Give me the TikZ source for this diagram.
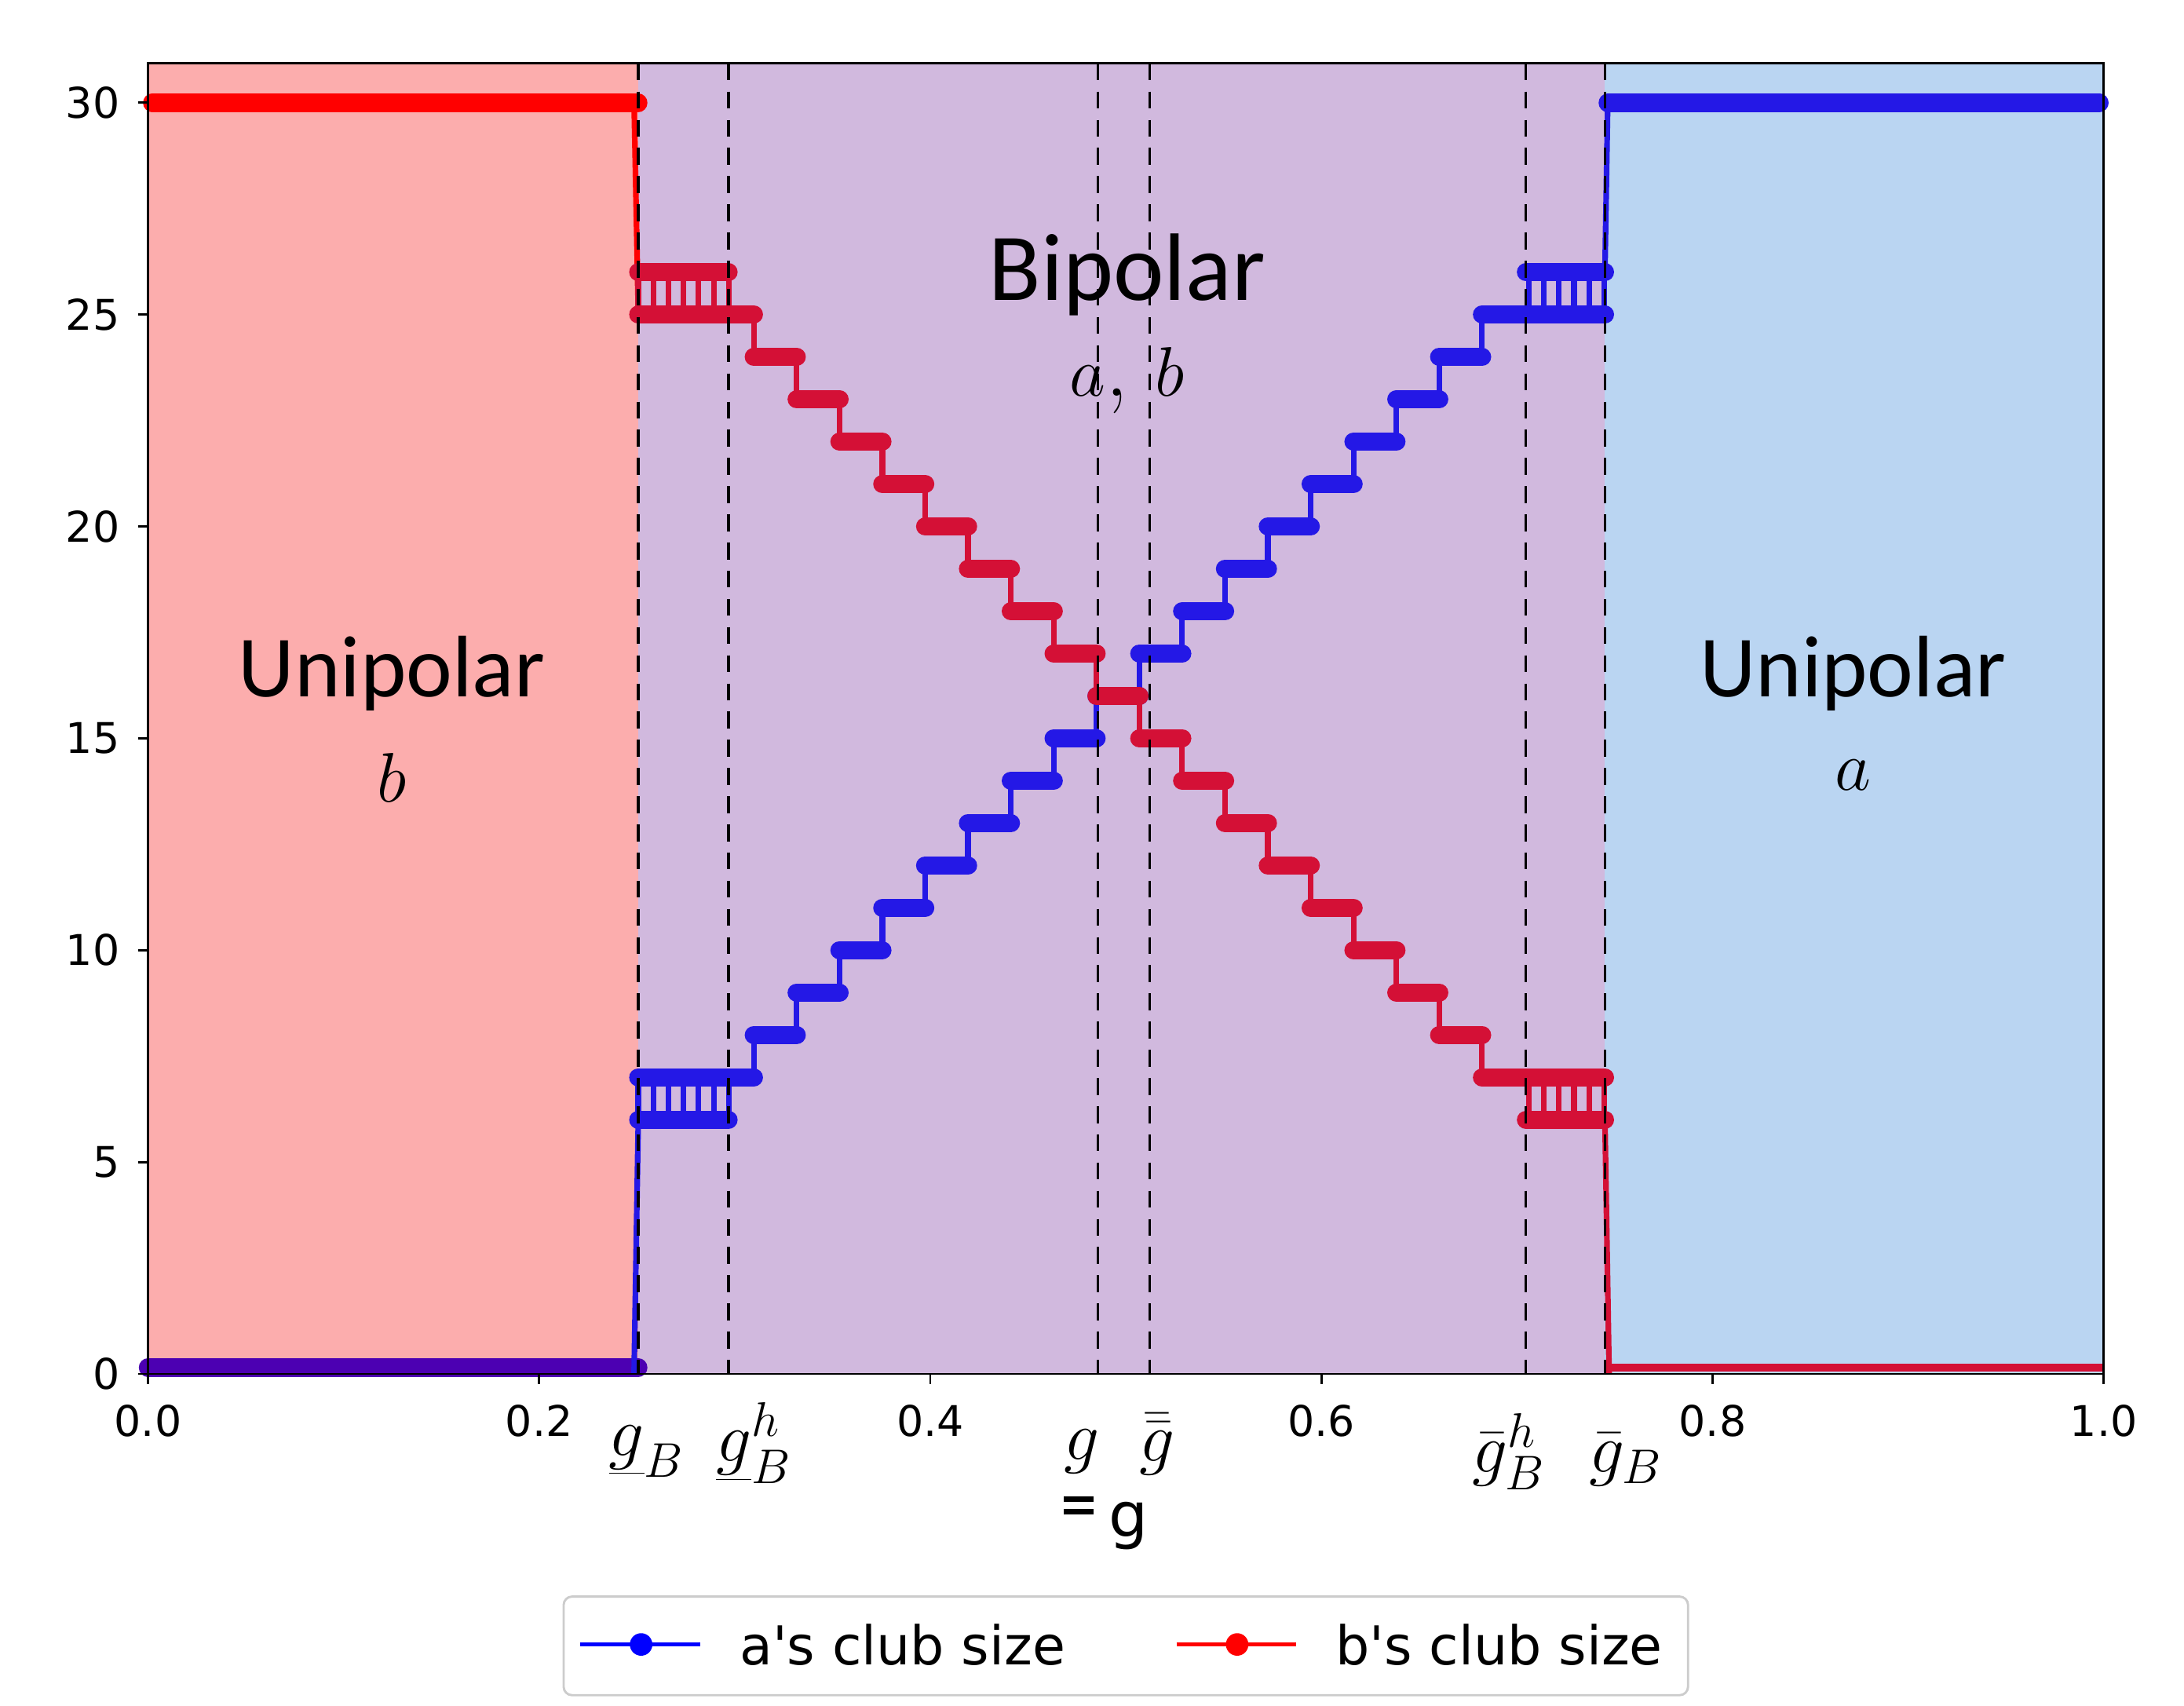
\documentclass[tikz,border=0pt]{standalone}
\usepackage{fontspec}
\newfontfamily\dvfont{DejaVu Sans}
\newfontfamily\calfont{Carlito}
\definecolor{fillred}{HTML}{FCADAD}
\definecolor{fillpur}{HTML}{D1B9DE}
\definecolor{fillblu}{HTML}{BAD5F2}
\definecolor{cred}{HTML}{D41036}
\definecolor{cblu}{HTML}{2418E6}
\begin{document}
\begin{tikzpicture}[x=0.5pt,y=-0.5pt,
  plat/.style={line width=6.5pt,line cap=round},
  vert/.style={line width=2pt},
  vline/.style={black,line width=0.9pt,dash pattern=on 6pt off 4pt},
  tick/.style={font=\dvfont\fontsize{15}{15}\selectfont},
  glab/.style={font=\fontsize{25}{25}\selectfont,inner sep=0pt},
  big/.style={font=\calfont\fontsize{31}{31}\selectfont},
  bigm/.style={font=\fontsize{32}{32}\selectfont}]
\useasboundingbox (0,0) rectangle (1550,1210.6);
\def\Y#1{975-30.07*(#1)}
\def\w{30.4}
% fills
\fill[fillred] (105,45) rectangle (453,975);
\fill[fillpur] (453,45) rectangle (1139,975);
\fill[fillblu] (1139,45) rectangle (1493,975);
% ----- blue curve
\begin{scope}[cblu]
\draw[plat,color=blue!70!red] (105,{\Y{0.15}}) -- (453,{\Y{0.15}});
\draw[vert] (450,{\Y{0}}) -- (453,{\Y{6}});
\draw[plat] (453,{\Y{7}}) -- (517,{\Y{7}});
\draw[plat] (453,{\Y{6}}) -- (517,{\Y{6}});
\foreach \i in {0,...,6} \draw[vert] ({453+\i*10.7},{\Y{6}}) -- ({453+\i*10.7},{\Y{7}});
\draw[plat] (517,{\Y{7}}) -- (535,{\Y{7}});
\foreach \k in {1,...,18}{
  \draw[vert] ({535+(\k-1)*\w},{\Y{6+\k}}) -- ({535+(\k-1)*\w},{\Y{7+\k}});
  \draw[plat] ({535+(\k-1)*\w},{\Y{7+\k}}) -- ({535+\k*\w},{\Y{7+\k}});
}
\draw[plat] (1083,{\Y{26}}) -- (1139,{\Y{26}});
\draw[plat] (1083,{\Y{25}}) -- (1139,{\Y{25}});
\foreach \i in {0,...,5} \draw[vert] ({1085+\i*10.7},{\Y{25}}) -- ({1085+\i*10.7},{\Y{26}});
\draw[vert] (1139,{\Y{26}}) -- (1141,{\Y{30}});
\draw[plat] (1141,{\Y{30}}) -- (1490,{\Y{30}});
\end{scope}
% ----- red curve
\begin{scope}[cred]
\draw[plat,red] (108,{\Y{30}}) -- (453,{\Y{30}});
\draw[vert,red] (450,{\Y{30}}) -- (453,{\Y{25}});
\draw[plat] (453,{\Y{26}}) -- (517,{\Y{26}});
\draw[plat] (453,{\Y{25}}) -- (517,{\Y{25}});
\foreach \i in {0,...,6} \draw[vert] ({453+\i*10.7},{\Y{25}}) -- ({453+\i*10.7},{\Y{26}});
\draw[plat] (517,{\Y{25}}) -- (535,{\Y{25}});
\foreach \k in {1,...,18}{
  \draw[vert] ({535+(\k-1)*\w},{\Y{26-\k}}) -- ({535+(\k-1)*\w},{\Y{25-\k}});
  \draw[plat] ({535+(\k-1)*\w},{\Y{25-\k}}) -- ({535+\k*\w},{\Y{25-\k}});
}
\draw[plat] (1083,{\Y{7}}) -- (1139,{\Y{7}});
\draw[plat] (1083,{\Y{6}}) -- (1139,{\Y{6}});
\foreach \i in {0,...,5} \draw[vert] ({1085+\i*10.7},{\Y{6}}) -- ({1085+\i*10.7},{\Y{7}});
\draw[vert] (1139,{\Y{6}}) -- (1142,{\Y{0}});
\draw[line width=3pt] (1142,{\Y{0.15}}) -- (1493,{\Y{0.15}});
\end{scope}
% dashed lines
\foreach \x in {453,517,779,816,1083,1139} \draw[vline] (\x,45) -- (\x,975);
% frame
\draw[line width=0.8pt] (105,45) rectangle (1493,975);
% y ticks
\foreach \v in {0,5,...,30}{
  \draw[line width=0.8pt] (98,{\Y{\v}}) -- (105,{\Y{\v}});
  \node[tick,anchor=east] (yt\v) at (92,{\Y{\v}}) {\v};
}
% x ticks
\foreach \t/\l in {0/0.0,0.2/0.2,0.4/0.4,0.6/0.6,0.8/0.8,1/1.0}{
  \draw[line width=0.8pt] ({105+1388*\t},975) -- ({105+1388*\t},982);
  \node[tick,anchor=north] at ({105+1388*\t},990) {\l};
}
% x marker labels
\node[glab] (l1) at (459,1030) {$\underline{g}_{B}$};
\node[glab] (l2) at (535,1024) {$\underline{g}_{B}^{h}$};
\node[glab] (l3) at (768,1030) {$g$};
\node[glab] (l4) at (821,1025) {$\bar{\bar{g}}$};
\node[glab] (l5) at (1071,1030) {$\bar{g}_{B}^{h}$};
\node[glab] (l6) at (1154,1036) {$\bar{g}_{B}$};
\fill (755,1062) rectangle (776,1066);
\fill (755,1071) rectangle (776,1075);
\node[font=\dvfont\fontsize{22}{22}\selectfont] (xl) at (801,1083) {g};
% region labels
\node[big] (u1) at (278,478) {Unipolar};
\node[bigm] (u1b) at (278,552) {$b$};
\node[big,font=\calfont\fontsize{34}{34}\selectfont] (bp) at (800,195) {Bipolar};
\node[bigm] (bpab) at (800,270) {$a$, $b$};
\node[big] (u2) at (1315,478) {Unipolar};
\node[bigm] (u2a) at (1315,550) {$a$};
% legend
\draw[rounded corners=3pt,draw=black!20,fill=white,line width=0.8pt] (400,1133) rectangle (1198,1203);
\draw[blue,line width=1.6pt] (412,1167) -- (497,1167);
\fill[blue] (455,1167) circle (4pt);
\node[font=\dvfont\fontsize{19}{19}\selectfont,anchor=west] (la) at (518,1167) {a's club size};
\draw[red,line width=1.6pt] (835,1167) -- (920,1167);
\fill[red] (878,1167) circle (4pt);
\node[font=\dvfont\fontsize{19}{19}\selectfont,anchor=west] (lb) at (941,1167) {b's club size};
\end{tikzpicture}
\end{document}
